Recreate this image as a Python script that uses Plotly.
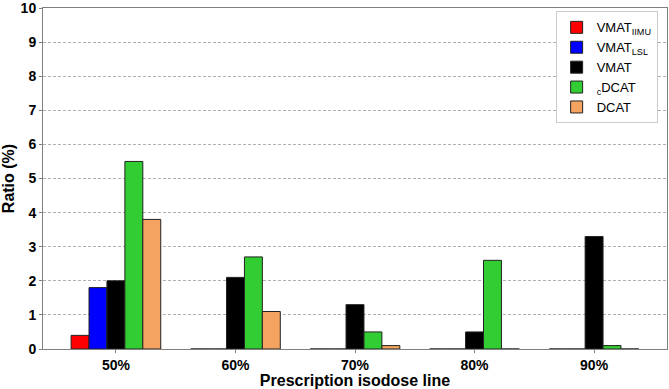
import plotly.graph_objects as go

categories = ["50%", "60%", "70%", "80%", "90%"]
vmat_iimu = [0.4, 0, 0, 0, 0]
vmat_lsl = [1.8, 0, 0, 0, 0]
vmat = [2.0, 2.1, 1.3, 0.5, 3.3]
c_dcat = [5.5, 2.7, 0.5, 2.6, 0.1]
dcat = [3.8, 1.1, 0.1, 0, 0]

series = [
    ("VMAT<sub>IIMU</sub>", vmat_iimu, "#ff0000"),
    ("VMAT<sub>LSL</sub>", vmat_lsl, "#0000ff"),
    ("VMAT", vmat, "#000000"),
    ("<sub>c</sub>DCAT", c_dcat, "#32cd32"),
    ("DCAT", dcat, "#f4a460"),
]

fig = go.Figure()
for name, vals, col in series:
    fig.add_trace(go.Bar(
        x=categories, y=vals, name=name,
        marker=dict(color=col, line=dict(color="#222222", width=1)),
    ))

fig.update_layout(
    width=669, height=389,
    margin=dict(l=43, r=2, t=8, b=40),
    paper_bgcolor="white", plot_bgcolor="white",
    barmode="group", bargap=0.25, bargroupgap=0,
    font=dict(family="Liberation Sans, Arial, sans-serif", color="black"),
    legend=dict(
        x=0.985, y=0.99, xanchor="right", yanchor="top",
        bgcolor="white", bordercolor="#cccccc", borderwidth=1,
        font=dict(size=13), tracegroupgap=0,
    ),
    xaxis=dict(
        range=[-0.61, 4.61], automargin=False,
        showline=True, linecolor="#808080", linewidth=1, mirror=True,
        ticks="outside", ticklen=3, tickcolor="#808080",
        tickfont=dict(size=14, family="Liberation Sans, Arial", weight="bold"),
        title=dict(text="<b>Prescription isodose line</b>", font=dict(size=16), standoff=2),
    ),
    yaxis=dict(
        range=[0, 10], dtick=1, automargin=False, ticklabeloverflow="allow",
        showline=True, linecolor="#808080", linewidth=1, mirror=True,
        ticks="outside", ticklen=3, tickcolor="#808080",
        showgrid=True, gridcolor="#b0b0b0", griddash="3px,2px", gridwidth=1,
        tickfont=dict(size=14, family="Liberation Sans, Arial", weight="bold"),
        title=dict(text="<b>Ratio (%)</b>", font=dict(size=16), standoff=6),
        zeroline=False,
    ),
)

fig.write_html("out.html", config={"displayModeBar": False},
               post_script="document.body.style.margin='0';document.body.style.overflow='hidden';")
